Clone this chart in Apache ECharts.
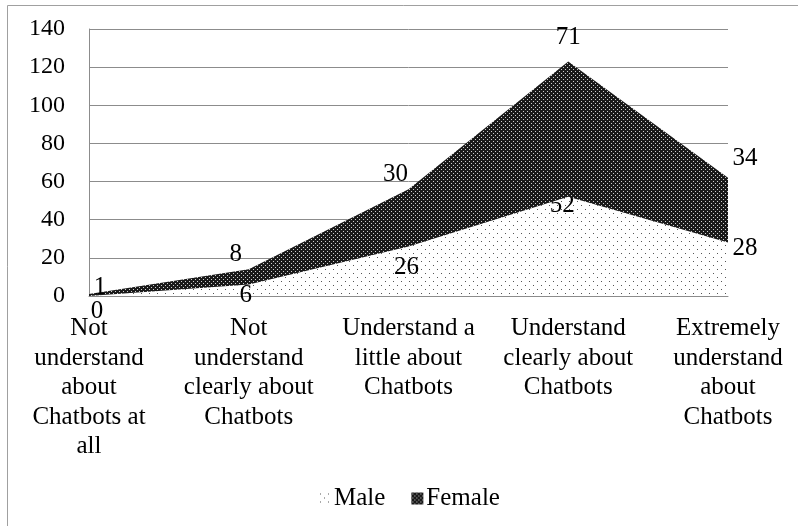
<!DOCTYPE html>
<html>
<head>
<meta charset="utf-8">
<script src="https://cdn.jsdelivr.net/npm/echarts@6/dist/echarts.min.js"></script>
<style>
  html, body { margin: 0; padding: 0; background: #fff; }
  #chart { width: 798px; height: 526px; }
</style>
</head>
<body>
<div id="chart"></div>
<script>
// Understanding of Chatbots by gender (stacked area)
const categories = [
  'Not\nunderstand\nabout\nChatbots at\nall',
  'Not\nunderstand\nclearly about\nChatbots',
  'Understand a\nlittle about\nChatbots',
  'Understand\nclearly about\nChatbots',
  'Extremely\nunderstand\nabout\nChatbots'
];
const maleValues = [0, 6, 26, 52, 28];
const femaleValues = [1, 8, 30, 71, 34];
const yTicks = { min: 0, max: 140, interval: 20 };

// Label nudges around each point, [dx, dy] in pixels
const maleLabelOffsets = [[8, 15], [-3, 11], [-2, 21], [-6, 9], [17, 6]];
const femaleLabelOffsets = [[11, -7], [-13, -15], [-13, -15], [0, -24], [17, -19]];

const FONT = '"Liberation Serif", "Times New Roman", serif';

// Sparse grey dots on white
function makeMalePattern() {
  const c = document.createElement('canvas');
  c.width = 8; c.height = 8;
  const g = c.getContext('2d');
  g.fillStyle = '#ffffff';
  g.fillRect(0, 0, 8, 8);
  g.fillStyle = '#555555';
  g.fillRect(1, 1, 1, 1);
  g.fillRect(5, 5, 1, 1);
  return c;
}
// Dark fill with a fine lattice of light dots
function makeFemalePattern() {
  const c = document.createElement('canvas');
  c.width = 4; c.height = 4;
  const g = c.getContext('2d');
  g.fillStyle = '#1a1a1a';
  g.fillRect(0, 0, 4, 4);
  g.fillStyle = '#cfcfcf';
  g.fillRect(1, 1, 1, 1);
  g.fillRect(3, 3, 1, 1);
  return c;
}
const malePattern = { image: makeMalePattern(), repeat: 'repeat' };
const femalePattern = { image: makeFemalePattern(), repeat: 'repeat' };

function withOffsets(values, offsets, pos) {
  return values.map((v, i) => ({
    value: v,
    label: { position: pos, offset: offsets[i] }
  }));
}

const labelBase = {
  show: true,
  fontFamily: FONT,
  fontSize: 25,
  color: '#000'
};

const chart = echarts.init(document.getElementById('chart'), null, { renderer: 'canvas' });
chart.setOption({
  animation: false,
  backgroundColor: '#fff',
  graphic: [{
    type: 'rect',
    shape: { x: 7.5, y: 5.5, width: 820, height: 540 },
    style: { fill: 'none', stroke: '#a0a0a0', lineWidth: 1 },
    silent: true
  }],
  grid: { left: 89, right: 70, top: 29, bottom: 230 },
  legend: {
    left: 314,
    top: 481,
    itemWidth: 12,
    itemHeight: 12,
    itemGap: 26,
    textStyle: { fontFamily: FONT, fontSize: 25, color: '#000', padding: [0, 0, 0, -2] },
    data: [
      { name: 'Male', icon: 'rect', itemStyle: { color: malePattern } },
      { name: 'Female', icon: 'rect', itemStyle: { color: femalePattern } }
    ]
  },
  xAxis: {
    type: 'category',
    data: categories,
    boundaryGap: false,
    axisLine: { show: true, lineStyle: { color: '#8c8c8c', width: 1 } },
    axisTick: { show: false },
    axisLabel: {
      interval: 0,
      margin: 18,
      fontFamily: FONT,
      fontSize: 25,
      lineHeight: 29.5,
      color: '#000',
      align: 'center'
    },
    splitLine: { show: false }
  },
  yAxis: {
    type: 'value',
    min: yTicks.min,
    max: yTicks.max,
    interval: yTicks.interval,
    axisLine: { show: true, lineStyle: { color: '#8c8c8c', width: 1 } },
    axisTick: { show: false },
    axisLabel: {
      margin: 24,
      fontFamily: FONT,
      fontSize: 24,
      color: '#000'
    },
    splitLine: { show: true, lineStyle: { color: '#8c8c8c', width: 1 } }
  },
  series: [
    {
      name: 'Male',
      type: 'line',
      stack: 'total',
      data: withOffsets(maleValues, maleLabelOffsets, 'inside'),
      symbol: 'circle',
      symbolSize: 0,
      showSymbol: true,
      lineStyle: { width: 0 },
      itemStyle: { color: malePattern },
      areaStyle: { color: malePattern, opacity: 1 },
      label: Object.assign({}, labelBase),
      z: 2
    },
    {
      name: 'Female',
      type: 'line',
      stack: 'total',
      data: withOffsets(femaleValues, femaleLabelOffsets, 'inside'),
      symbol: 'circle',
      symbolSize: 0,
      showSymbol: true,
      lineStyle: { width: 0 },
      itemStyle: { color: femalePattern },
      areaStyle: { color: femalePattern, opacity: 1 },
      label: Object.assign({}, labelBase),
      z: 3
    }
  ]
});
</script>
</body>
</html>
